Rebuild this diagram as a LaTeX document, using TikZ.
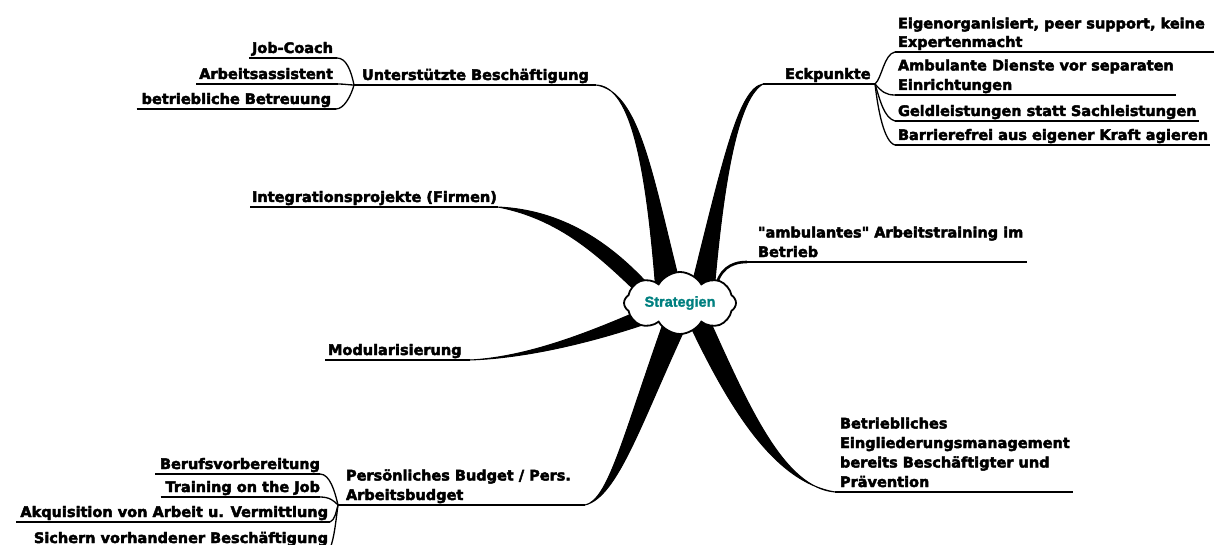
\documentclass[tikz,border=0pt]{standalone}
\usepackage{fontspec}
\setmainfont{DejaVu Sans}[Ligatures=TeXOff, BoldFeatures={FakeBold=3}]
\newfontfamily\cloudfont{Liberation Sans}[BoldFeatures={FakeBold=1.5}]
\usetikzlibrary{shapes.symbols,calc}
\definecolor{tealtext}{RGB}{0,128,128}
\newcommand\lab{\fontsize{14.5}{19.5}\selectfont\bfseries}
\begin{document}
\begin{tikzpicture}[x=1pt,y=-1pt,
  lbl/.style={font=\lab, inner sep=0pt, outer xsep=0pt, outer ysep=1.5pt, text depth=3.5pt},
  uline/.style={line width=1.8pt},
  twig/.style={line width=1.3pt},
  branch/.style={fill=black, draw=black, line width=1pt, line join=round}]
\useasboundingbox (0,0) rectangle (1214,545);
\clip (0,0) rectangle (1214,545);

% tips and centre
\coordinate (cc) at (680,303);
\coordinate (Ut) at (596,85);
\coordinate (Et) at (763,84);
\coordinate (It) at (498,207);
\coordinate (Mt) at (470,360);
\coordinate (At) at (747,262);
\coordinate (Bt) at (835,492);
\coordinate (Pt) at (585,505);
\coordinate (J1) at (354,85);
\coordinate (J2) at (875,84);
\coordinate (J3) at (338,505);

% labels
\node[lbl, anchor=south west] (U) at (362,85) {Unterstützte Beschäftigung};
\node[lbl, anchor=south east] (jc) at (333,58) {Job-Coach};
\node[lbl, anchor=south east] (aa) at (333,84) {Arbeitsassistent};
\node[lbl, anchor=south east] (bb) at (331,109) {betriebliche Betreuung};

\node[lbl, anchor=south west] (E) at (785,84) {Eckpunkte};
\node[lbl, anchor=south west, align=left, font=\fontsize{14.5}{18.5}\selectfont\bfseries] (e1) at (898,52) {Eigenorganisiert, peer support, keine\\Expertenmacht};
\node[lbl, anchor=south west, align=left] (e2) at (898,95) {Ambulante Dienste vor separaten\\Einrichtungen};
\node[lbl, anchor=south west] (e3) at (898,121) {Geldleistungen statt Sachleistungen};
\node[lbl, anchor=south west] (e4) at (898,145) {Barrierefrei aus eigener Kraft agieren};

\node[lbl, anchor=south west] (IP) at (252,207) {Integrationsprojekte (Firmen)};
\node[lbl, anchor=south west] (MO) at (328,360) {Modularisierung};
\node[lbl, anchor=south west, align=left] (AT) at (758,262) {"ambulantes" Arbeitstraining im\\Betrieb};
\node[lbl, anchor=south west, align=left] (BE) at (840,492) {Betriebliches\\Eingliederungsmanagement\\bereits Beschäftigter und\\Prävention};
\node[lbl, anchor=south west, align=left] (PB) at (346,505) {Persönliches Budget / Pers.\\Arbeitsbudget};
\node[lbl, anchor=south east] (bv) at (320,474) {Berufsvorbereitung};
\node[lbl, anchor=south east] (tj) at (320,497) {Training on the Job};
\node[lbl, anchor=south east] (ak) at (328,522) {Akquisition von Arbeit u. Vermittlung};
\node[lbl, anchor=south east] (sv) at (328,548) {Sichern vorhandener Beschäftigung};

% underlines
\draw[uline] (J1) -- (Ut);
\draw[uline] ($(jc.south west)+(-3,0)$) -- ($(jc.south east)+(4,0)$);
\draw[uline] ($(aa.south west)+(-3,0)$) -- ($(aa.south east)+(5,0)$);
\draw[uline] ($(bb.south west)+(-5,0)$) -- ($(bb.south east)+(5,0)$);
\draw[uline] (Et) -- (J2);
\draw[uline] ($(e1.south west)+(-3,0)$) -- (1214,52);
\draw[uline] ($(e2.south west)+(-3,0)$) -- ($(e2.south east)+(2,0)$);
\draw[uline] ($(e3.south west)+(-3,0)$) -- ($(e3.south east)+(2,0)$);
\draw[uline] ($(e4.south west)+(-3,0)$) -- ($(e4.south east)+(2,0)$);
\draw[uline] ($(IP.south west)+(-2,0)$) -- (It);
\draw[uline] ($(MO.south west)+(-3,0)$) -- (Mt);
\draw[uline] (At) -- ($(AT.south east)+(4,0)$);
\draw[uline] (Bt) -- ($(BE.south east)+(3,0)$);
\draw[uline] (J3) -- (Pt);
\draw[uline] ($(bv.south west)+(-5,0)$) -- (bv.south east);
\draw[uline] ($(tj.south west)+(-5,0)$) -- (tj.south east);
\draw[uline] ($(ak.south west)+(-4,0)$) -- ($(ak.south east)+(2,0)$);
\draw[uline] ($(sv.south west)+(-4,0)$) -- ($(sv.south east)+(2,0)$);

% twigs
\draw[twig] ($(jc.south east)+(4,0)$) .. controls (346,58) and (351,70) .. (J1);
\draw[twig] ($(aa.south east)+(5,0)$) .. controls (345,84) and (349,85) .. (J1);
\draw[twig] ($(bb.south east)+(5,0)$) .. controls (344,109) and (351,96) .. (J1);
\draw[twig] (J2) .. controls (882,78) and (884,54) .. ($(e1.south west)+(-3,0)$);
\draw[twig] (J2) .. controls (882,92) and (886,95) .. ($(e2.south west)+(-3,0)$);
\draw[twig] (J2) .. controls (880,100) and (884,118) .. ($(e3.south west)+(-3,0)$);
\draw[twig] (J2) .. controls (878,110) and (884,142) .. ($(e4.south west)+(-3,0)$);
\draw[twig] (bv.south east) .. controls (330,474) and (335,492) .. (J3);
\draw[twig] (tj.south east) .. controls (330,497) and (334,501) .. (J3);
\draw[twig] ($(ak.south east)+(2,0)$) .. controls (335,520) and (336,512) .. (J3);
\draw[twig] ($(sv.south east)+(2,0)$) .. controls (334,540) and (336,520) .. (J3);

% tapered branches
\filldraw[branch] (Ut) .. controls (628,86) and (645,150) .. ($(cc)+(-24,-11)$)
  -- ($(cc)+(2,-11)$) .. controls (652,175) and (640,92) .. (Ut) -- cycle;
\filldraw[branch] (Et) .. controls (738,88) and (722,165) .. ($(cc)+(10,-11)$)
  -- ($(cc)+(34,-11)$) .. controls (722,200) and (735,100) .. (Et) -- cycle;
\filldraw[branch] (It) .. controls (560,210) and (610,240) .. ($(cc)+(-24,-10)$)
  -- ($(cc)+(-32,0)$) .. controls (605,262) and (565,220) .. (It) -- cycle;
\filldraw[branch] (Mt) .. controls (530,357) and (595,330) .. ($(cc)+(-30,3)$)
  -- ($(cc)+(-26,18)$) .. controls (600,340) and (530,358) .. (Mt) -- cycle;
\filldraw[branch] (Pt) .. controls (608,500) and (622,440) .. ($(cc)+(-16,18)$)
  -- ($(cc)+(8,19)$) .. controls (642,420) and (618,497) .. (Pt) -- cycle;
\filldraw[branch] ($(cc)+(8,18)$) .. controls (730,410) and (775,482) .. (Bt)
  .. controls (785,488) and (750,410) .. ($(cc)+(30,18)$) -- cycle;
\draw[line width=2.6pt] ($(cc)+(35,-13)$) .. controls (719,270) and (730,262) .. (At);

% centre cloud
\node[cloud, cloud puffs=8, cloud puff arc=120, cloud ignores aspect,
  minimum width=112pt, minimum height=62pt, inner sep=0pt,
  draw=black, line width=1.8pt, fill=white,
  font=\cloudfont\bfseries\fontsize{14.5}{16}\selectfont, text=tealtext] (c) at (cc) {Strategien};
\end{tikzpicture}
\end{document}
